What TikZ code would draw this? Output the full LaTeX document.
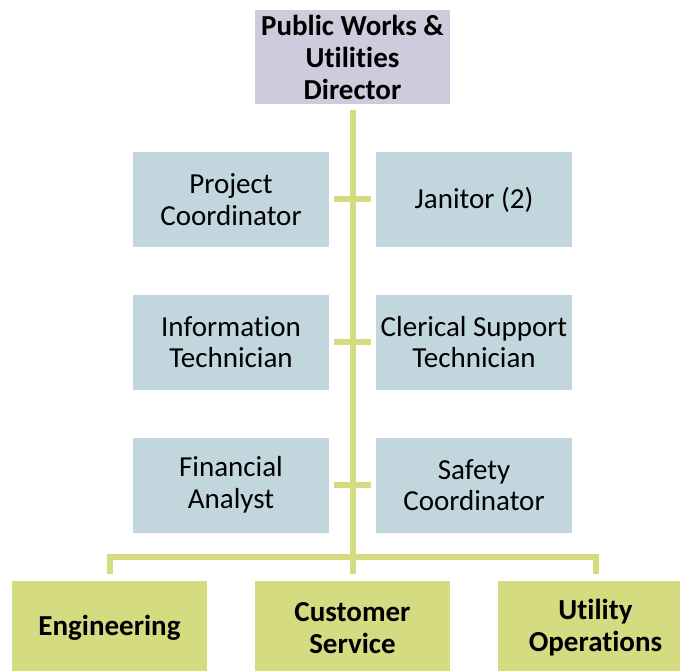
\documentclass[tikz,border=0pt]{standalone}
\usepackage{fontspec}
\setmainfont{Carlito}[RawFeature={-liga}]
\definecolor{topfill}{HTML}{CCCCDC}
\definecolor{midfill}{HTML}{C2D6DD}
\definecolor{botfill}{HTML}{D4DB80}
\definecolor{linecol}{HTML}{D4DB80}
\tikzset{
  box/.style={rectangle, inner sep=0pt, minimum width=196pt, minimum height=95pt, align=center,
    font=\fontsize{29}{31.5}\selectfont},
  topbox/.style={box, fill=topfill, minimum width=195pt, minimum height=94pt, font=\fontsize{29}{32}\selectfont\bfseries},
  midbox/.style={box, fill=midfill},
  botbox/.style={box, fill=botfill, minimum width=195pt, minimum height=94pt, font=\fontsize{29}{32}\selectfont\bfseries},
  conn/.style={draw=linecol, line width=6pt}
}
\begin{document}
\begin{tikzpicture}[x=1pt,y=-1pt]
\useasboundingbox (0,0) rectangle (680,671);
\node[topbox] (dir) at (352.5,57) {Public Works \&\\Utilities\\Director};
\node[midbox] (pc) at (231,199.5) {Project\\Coordinator};
\node[midbox] (jan) at (474,199.5) {Janitor (2)};
\node[midbox] (it) at (231,342) {Information\\Technician};
\node[midbox] (cst) at (474,342) {Clerical Support\\Technician};
\node[midbox] (fa) at (231,485) {Financial\\Analyst};
\node[midbox] (sc) at (474,485) {Safety\\Coordinator};
\node[botbox] (eng) at (109.5,628) {Engineering};
\node[botbox] (cs) at (352.5,628) {Customer\\Service};
\node[botbox] (uo) at (595.5,628) {Utility\\Operations};
\coordinate (vtop) at (352.5,110);
\coordinate (vbot) at (352.5,574);
\coordinate (bl) at (109.5,557);
\coordinate (br) at (595.5,557);
\coordinate (s1l) at (334,199.5); \coordinate (s1r) at (371,199.5);
\coordinate (s2l) at (334,342); \coordinate (s2r) at (371,342);
\coordinate (s3l) at (334,485); \coordinate (s3r) at (371,485);
\draw[conn] (vtop) -- (vbot);
\draw[conn] (s1l) -- (s1r);
\draw[conn] (s2l) -- (s2r);
\draw[conn] (s3l) -- (s3r);
\draw[conn] ([yshift=7pt]eng.north) -- (bl) -- (br) -- ([yshift=7pt]uo.north);
\end{tikzpicture}
\end{document}
